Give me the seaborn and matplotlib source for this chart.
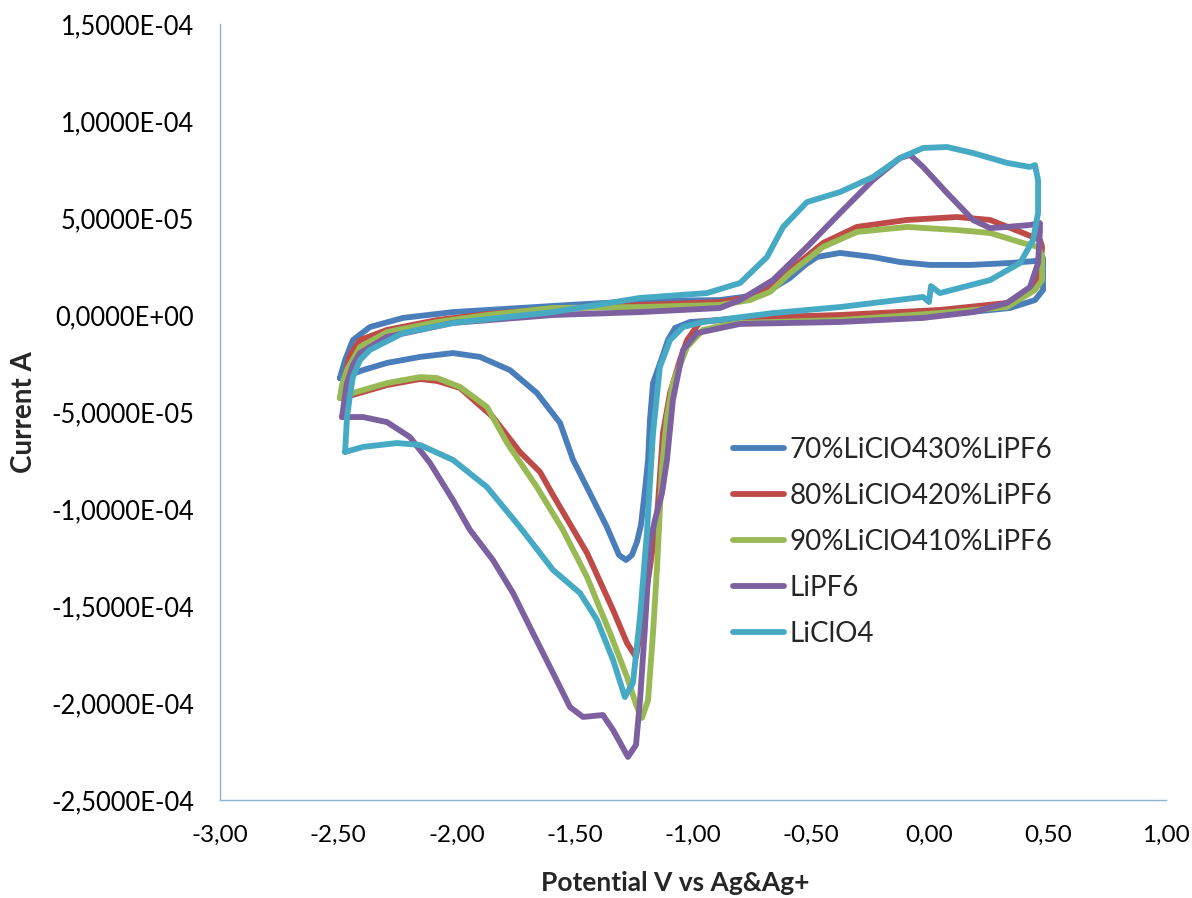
import numpy as np
import pandas as pd
import matplotlib
matplotlib.use("Agg")
import matplotlib.pyplot as plt
from matplotlib.ticker import FuncFormatter, MultipleLocator
import seaborn as sns

# Cyclic voltammograms: potential (V vs Ag/Ag+) and current (units of 1e-5 A)
v_70 = [-2.493, -2.471, -2.438, -2.366, -2.226, -2.015, -1.732, -1.520, -1.224, -0.886,
        -0.759, -0.674, -0.590, -0.526, -0.476, -0.378, -0.239, -0.125, 0.002, 0.171,
        0.340, 0.446, 0.480, 0.480, 0.446, 0.340, 0.129, -0.125, -0.548, -0.886,
        -1.013, -1.076, -1.106, -1.127, -1.169, -1.182, -1.190, -1.203, -1.220, -1.237,
        -1.258, -1.283, -1.313, -1.364, -1.436, -1.507, -1.562, -1.660, -1.774, -1.901,
        -2.015, -2.154, -2.294, -2.395, -2.450, -2.493]
i_70 = [-3.25, -2.32, -1.29, -0.62, -0.15, 0.15, 0.36, 0.52, 0.72, 0.77,
        0.98, 1.29, 1.91, 2.58, 2.99, 3.20, 2.99, 2.73, 2.58, 2.58,
        2.68, 2.78, 2.94, 1.29, 0.77, 0.36, 0.10, 0.00, -0.10, -0.26,
        -0.36, -0.67, -1.29, -2.06, -3.51, -5.41, -7.47, -9.02, -10.82, -11.70,
        -12.37, -12.63, -12.37, -10.93, -9.18, -7.47, -5.57, -4.02, -2.84, -2.16,
        -1.96, -2.16, -2.47, -2.84, -3.09, -3.25]

v_80 = [-2.484, -2.471, -2.450, -2.408, -2.294, -2.082, -1.871, -1.592, -1.224, -0.886,
        -0.759, -0.674, -0.590, -0.450, -0.307, -0.095, 0.116, 0.256, 0.395, 0.467,
        0.476, 0.467, 0.425, 0.328, 0.044, -0.378, -0.801, -0.971, -1.025, -1.055,
        -1.097, -1.127, -1.152, -1.182, -1.224, -1.241, -1.279, -1.338, -1.448, -1.592,
        -1.647, -1.732, -1.846, -1.985, -2.082, -2.154, -2.294, -2.438, -2.484]
i_80 = [-4.28, -3.09, -2.06, -1.29, -0.77, -0.26, 0.05, 0.31, 0.52, 0.67,
        0.93, 1.39, 2.32, 3.71, 4.54, 4.90, 5.05, 4.90, 4.23, 3.87,
        3.51, 2.16, 1.29, 0.62, 0.26, 0.00, -0.15, -0.36, -1.29, -2.32,
        -4.02, -6.08, -10.41, -12.99, -16.39, -17.63, -16.91, -15.21, -12.27, -9.28,
        -8.09, -7.06, -5.26, -3.76, -3.40, -3.30, -3.61, -4.12, -4.28]

v_90 = [-2.493, -2.484, -2.463, -2.408, -2.294, -2.082, -1.871, -1.592, -1.224, -0.886,
        -0.759, -0.674, -0.590, -0.450, -0.307, -0.095, 0.116, 0.256, 0.395, 0.459,
        0.476, 0.476, 0.446, 0.328, 0.044, -0.378, -0.801, -0.886, -0.958, -1.025,
        -1.085, -1.110, -1.131, -1.152, -1.169, -1.190, -1.216, -1.237, -1.279, -1.351,
        -1.448, -1.550, -1.660, -1.786, -1.871, -1.985, -2.082, -2.154, -2.294, -2.438,
        -2.493]
i_90 = [-4.28, -3.61, -2.84, -1.65, -0.88, -0.36, 0.00, 0.36, 0.41, 0.52,
        0.77, 1.19, 2.16, 3.51, 4.28, 4.54, 4.38, 4.23, 3.71, 3.51,
        2.99, 1.80, 1.29, 0.41, 0.10, -0.26, -0.41, -0.57, -0.77, -1.65,
        -3.51, -5.26, -7.84, -12.99, -16.39, -19.85, -20.77, -20.21, -18.66, -16.39,
        -13.51, -11.08, -8.87, -6.60, -4.74, -3.71, -3.25, -3.20, -3.51, -4.02,
        -4.28]

v_pf6 = [-2.484, -2.471, -2.463, -2.438, -2.408, -2.294, -2.015, -1.592, -1.224, -0.886,
         -0.801, -0.662, -0.518, -0.378, -0.239, -0.125, -0.082, -0.027, 0.074, 0.184,
         0.256, 0.328, 0.425, 0.467, 0.467, 0.459, 0.425, 0.328, 0.184, -0.027,
         -0.378, -0.801, -0.983, -1.042, -1.085, -1.110, -1.131, -1.161, -1.182, -1.203,
         -1.224, -1.241, -1.275, -1.338, -1.381, -1.465, -1.520, -1.592, -1.677, -1.761,
         -1.846, -1.943, -2.015, -2.112, -2.197, -2.294, -2.395, -2.484]
i_pf6 = [-5.26, -4.12, -3.51, -2.58, -1.96, -1.13, -0.41, 0.00, 0.15, 0.36,
         0.77, 1.80, 3.51, 5.26, 6.96, 8.09, 8.25, 7.63, 6.29, 4.90,
         4.48, 4.54, 4.64, 4.74, 4.38, 2.68, 1.44, 0.62, 0.15, -0.15,
         -0.36, -0.46, -0.93, -1.80, -4.38, -7.47, -9.18, -10.57, -11.75, -16.08,
         -19.85, -22.16, -22.78, -21.39, -20.62, -20.72, -20.21, -18.45, -16.39, -14.33,
         -12.63, -11.08, -9.54, -7.63, -6.29, -5.52, -5.26, -5.26]

v_clo4 = [-2.471, -2.463, -2.450, -2.438, -2.408, -2.366, -2.226, -2.015, -1.592, -1.224,
          -0.941, -0.801, -0.687, -0.619, -0.518, -0.378, -0.239, -0.125, -0.027, 0.074,
          0.184, 0.328, 0.425, 0.446, 0.459, 0.459, 0.438, 0.383, 0.256, 0.044,
          0.006, -0.002, -0.027, -0.378, -0.662, -0.958, -1.042, -1.097, -1.140, -1.169,
          -1.195, -1.224, -1.254, -1.288, -1.338, -1.406, -1.478, -1.592, -1.732, -1.871,
          -2.015, -2.154, -2.252, -2.395, -2.471]
i_clo4 = [-7.06, -5.26, -4.12, -3.20, -2.32, -1.80, -0.93, -0.41, 0.15, 0.88,
          1.13, 1.65, 2.99, 4.54, 5.82, 6.34, 7.11, 8.09, 8.61, 8.66,
          8.35, 7.84, 7.63, 7.73, 6.96, 5.26, 3.87, 2.68, 1.80, 1.13,
          1.49, 0.67, 0.93, 0.41, 0.10, -0.36, -0.62, -1.29, -2.68, -6.08,
          -11.24, -15.57, -18.97, -19.69, -17.78, -15.72, -14.33, -13.14, -10.93, -8.87,
          -7.47, -6.70, -6.60, -6.80, -7.06]

labels = ["70%LiClO430%LiPF6", "80%LiClO420%LiPF6", "90%LiClO410%LiPF6", "LiPF6", "LiClO4"]
colors = ["#4A7EBB", "#BE4B48", "#98B954", "#7D60A0", "#46AAC5"]

series = [(v_70, i_70), (v_80, i_80), (v_90, i_90), (v_pf6, i_pf6), (v_clo4, i_clo4)]
frames = []
for lab, (v, i) in zip(labels, series):
    frames.append(pd.DataFrame({"Potential": v,
                                "Current": np.asarray(i) * 1e-5,
                                "Electrolyte": lab}))
df = pd.concat(frames, ignore_index=True)

sns.set_style("white")
plt.rcParams["font.family"] = ["Lato", "DejaVu Sans"]

fig = plt.figure(figsize=(11.92, 8.98), dpi=100)
ax = fig.add_axes([220 / 1192, 1 - 800 / 898, (1166 - 220) / 1192, (800 - 24) / 898])

sns.lineplot(data=df, x="Potential", y="Current", hue="Electrolyte",
             hue_order=labels, palette=colors, sort=False, estimator=None,
             units="Electrolyte", linewidth=4.2, ax=ax, legend=True)
for line in ax.get_lines():
    line.set_solid_joinstyle("round")
    line.set_solid_capstyle("round")

ax.set_xlim(-3.0, 1.0)
ax.set_ylim(-2.5e-4, 1.5e-4)
ax.xaxis.set_major_locator(MultipleLocator(0.5))
ax.yaxis.set_major_locator(MultipleLocator(5e-5))


def fmt_x(v, pos):
    s = f"{v:.2f}".replace(".", ",")
    return "0,00" if s == "-0,00" else s


def fmt_y(v, pos):
    if abs(v) < 1e-12:
        v = 0.0
    return f"{v:.4E}".replace(".", ",")


ax.xaxis.set_major_formatter(FuncFormatter(fmt_x))
ax.yaxis.set_major_formatter(FuncFormatter(fmt_y))

spine_col = "#8AB6CC"
for side in ["top", "right"]:
    ax.spines[side].set_visible(False)
for side in ["left", "bottom"]:
    ax.spines[side].set_color(spine_col)
    ax.spines[side].set_linewidth(1.0)
ax.tick_params(axis="both", which="major", direction="out", length=7, width=1,
               color=spine_col, labelcolor="black")
ax.tick_params(axis="y", labelsize=18.4, pad=11.5)
ax.tick_params(axis="x", labelsize=17.5, pad=11)
ax.grid(False)

ax.set_xlabel("Potential V vs Ag&Ag+", fontsize=19, fontweight="bold")
ax.set_ylabel("Current A", fontsize=20, fontweight="bold")
ax.xaxis.set_label_coords((675 - 220) / 946, (800 - 871) / 776)
ax.yaxis.set_label_coords((37 - 220) / 946, (800 - 412) / 776)

leg = ax.legend(loc="upper left", bbox_to_anchor=(708 / 1192, 1 - 412 / 898),
                bbox_transform=fig.transFigure, frameon=False,
                handlelength=1.85, handletextpad=0.2, labelspacing=0.72,
                prop={"family": ["Lato", "DejaVu Sans"], "size": 20})
for line in leg.get_lines():
    line.set_linewidth(4.2)
    line.set_solid_capstyle("round")

fig.savefig("out.png", dpi=100)
